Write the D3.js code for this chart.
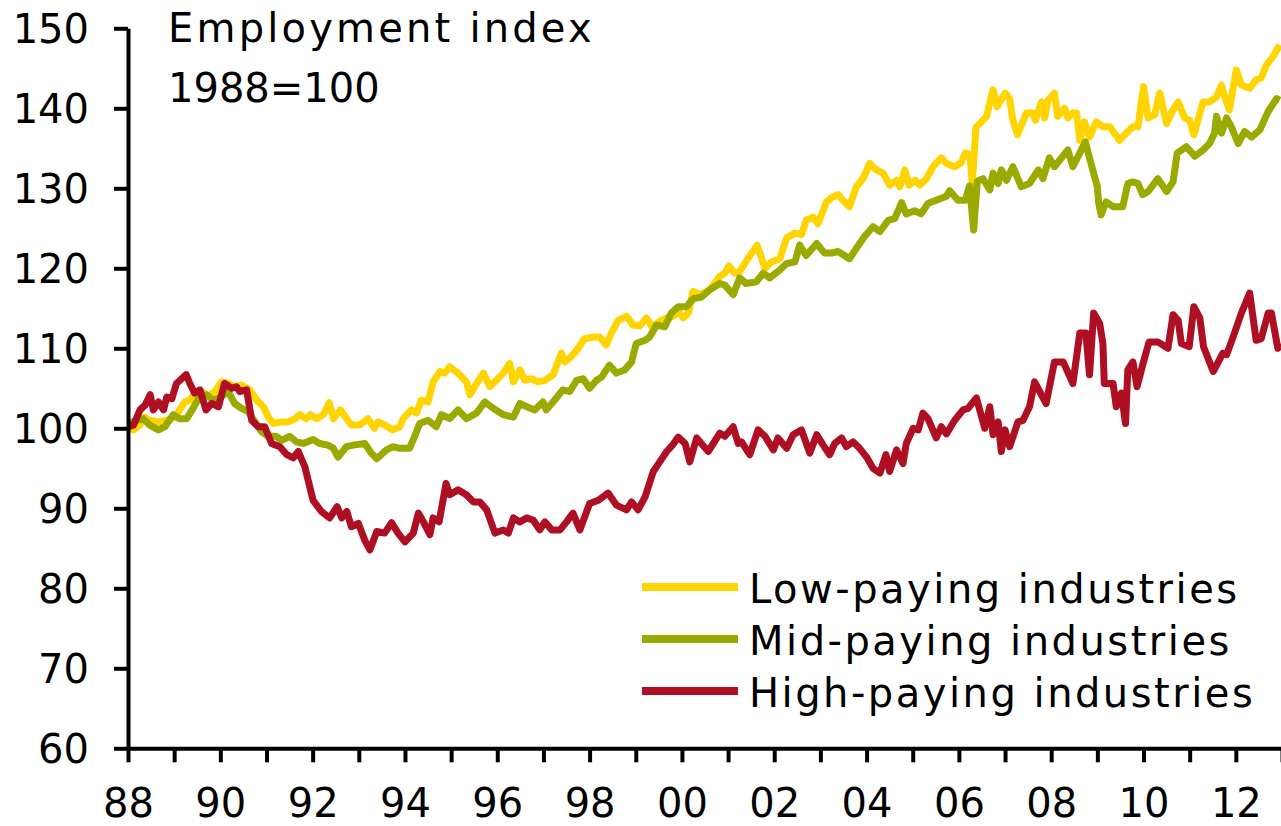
<!DOCTYPE html>
<html>
<head>
<meta charset="utf-8">
<script src="https://cdn.jsdelivr.net/npm/d3@7"></script>
<style>
  body { margin: 0; background: #fff; }
  svg { display: block; font-family: "DejaVu Sans", Verdana, sans-serif; }
</style>
</head>
<body>
<svg id="chart"></svg>
<script>
// Employment index, 1988=100, monthly readings ([year, index])

const lowPaying = [
  [1988.00,100.2],[1988.12,99.8],[1988.25,100.4],[1988.36,101.4],[1988.47,101.0],[1988.66,100.8],
  [1988.84,101.0],[1989.02,101.4],[1989.12,102.3],[1989.23,103.3],[1989.34,103.5],[1989.45,104.4],
  [1989.60,104.6],[1989.74,104.0],[1989.88,104.6],[1990.03,105.8],[1990.17,105.6],[1990.31,105.2],
  [1990.46,105.4],[1990.64,104.8],[1990.79,103.5],[1990.93,102.7],[1991.04,101.4],[1991.15,100.6],
  [1991.33,100.8],[1991.47,100.8],[1991.62,101.2],[1991.72,101.7],[1991.86,101.2],[1991.95,101.7],
  [1992.08,101.2],[1992.23,101.7],[1992.36,103.2],[1992.45,101.2],[1992.60,102.3],[1992.84,100.4],
  [1993.02,100.4],[1993.20,101.2],[1993.34,100.0],[1993.42,100.8],[1993.56,100.4],[1993.74,99.8],
  [1993.89,100.2],[1993.96,101.2],[1994.14,102.3],[1994.25,101.9],[1994.35,103.5],[1994.50,103.3],
  [1994.61,105.8],[1994.76,107.1],[1994.86,106.9],[1994.97,107.7],[1995.15,106.9],[1995.33,105.8],
  [1995.41,104.2],[1995.55,105.6],[1995.70,106.9],[1995.84,105.2],[1995.98,106.0],[1996.13,106.9],
  [1996.27,108.1],[1996.35,105.8],[1996.49,107.3],[1996.60,106.0],[1996.74,106.2],[1996.88,105.8],
  [1997.03,106.0],[1997.21,106.7],[1997.39,109.4],[1997.46,108.3],[1997.61,109.0],[1997.75,110.0],
  [1997.89,111.2],[1998.08,111.4],[1998.22,111.4],[1998.36,110.4],[1998.47,111.9],[1998.62,113.5],
  [1998.80,114.0],[1998.94,112.9],[1999.09,112.8],[1999.23,113.8],[1999.36,112.6],[1999.52,113.4],
  [1999.67,113.8],[1999.81,114.0],[1999.92,114.6],[2000.03,113.8],[2000.14,114.4],[2000.24,117.1],
  [2000.39,116.7],[2000.60,117.3],[2000.82,119.0],[2000.93,119.4],[2001.02,120.3],[2001.14,119.4],
  [2001.25,119.6],[2001.43,121.2],[2001.63,122.9],[2001.80,120.0],[2001.94,120.8],[2002.12,121.2],
  [2002.27,123.8],[2002.45,124.4],[2002.59,124.2],[2002.69,126.0],[2002.84,126.4],[2002.95,125.6],
  [2003.13,128.3],[2003.24,128.8],[2003.38,129.2],[2003.52,128.3],[2003.63,127.7],[2003.78,130.2],
  [2003.92,131.2],[2004.07,133.1],[2004.21,132.3],[2004.36,131.9],[2004.50,130.4],[2004.65,131.0],
  [2004.72,130.2],[2004.83,132.3],[2004.92,130.4],[2005.05,131.0],[2005.15,130.4],[2005.30,131.2],
  [2005.44,132.7],[2005.62,133.8],[2005.73,133.1],[2005.91,132.7],[2006.05,133.2],[2006.14,134.4],
  [2006.24,134.2],[2006.29,130.6],[2006.37,137.6],[2006.49,138.3],[2006.60,139.0],[2006.74,142.3],
  [2006.83,140.2],[2007.00,141.9],[2007.10,141.2],[2007.17,138.5],[2007.27,136.7],[2007.46,139.4],
  [2007.60,139.4],[2007.66,138.5],[2007.79,140.8],[2007.86,138.8],[2007.93,141.0],[2008.07,141.9],
  [2008.14,139.0],[2008.29,140.0],[2008.36,138.8],[2008.47,139.4],[2008.55,139.4],[2008.62,136.0],
  [2008.72,138.3],[2008.83,136.4],[2008.98,138.3],[2009.12,137.7],[2009.27,137.7],[2009.48,136.0],
  [2009.66,137.1],[2009.77,137.7],[2009.88,137.7],[2010.00,142.7],[2010.10,138.8],[2010.24,139.2],
  [2010.35,141.9],[2010.50,138.1],[2010.60,139.4],[2010.75,140.8],[2010.89,138.8],[2011.00,138.5],
  [2011.09,136.7],[2011.18,138.5],[2011.29,140.8],[2011.43,140.8],[2011.58,141.4],[2011.69,142.9],
  [2011.76,141.4],[2011.86,139.8],[2012.01,144.8],[2012.12,142.9],[2012.30,142.5],[2012.43,143.5],
  [2012.55,143.8],[2012.66,145.4],[2012.80,146.4],[2012.95,147.9]
];

const midPaying = [
  [1988.00,100.6],[1988.19,101.0],[1988.33,101.2],[1988.47,100.4],[1988.66,99.8],[1988.80,100.2],
  [1988.98,101.7],[1989.12,101.2],[1989.27,101.2],[1989.41,102.5],[1989.56,104.0],[1989.70,104.2],
  [1989.85,103.5],[1990.03,104.0],[1990.17,104.6],[1990.31,103.1],[1990.46,102.5],[1990.60,102.1],
  [1990.75,100.8],[1990.89,99.6],[1991.04,99.0],[1991.21,99.0],[1991.33,98.5],[1991.50,99.0],
  [1991.65,98.3],[1991.80,98.1],[1992.01,98.6],[1992.15,98.1],[1992.33,97.9],[1992.45,97.5],
  [1992.55,96.4],[1992.73,97.7],[1992.88,97.9],[1993.13,98.1],[1993.27,96.9],[1993.39,96.2],
  [1993.60,97.3],[1993.74,97.7],[1993.89,97.5],[1994.10,97.5],[1994.21,99.0],[1994.32,100.6],
  [1994.50,101.0],[1994.68,100.2],[1994.79,101.7],[1994.97,101.2],[1995.15,102.3],[1995.33,101.2],
  [1995.55,101.9],[1995.73,103.3],[1995.91,102.5],[1996.13,101.7],[1996.35,101.4],[1996.49,103.1],
  [1996.64,102.7],[1996.81,102.3],[1996.99,103.3],[1997.06,102.3],[1997.24,103.5],[1997.42,104.8],
  [1997.57,104.6],[1997.72,106.0],[1997.86,106.2],[1998.00,105.0],[1998.15,106.0],[1998.26,106.4],
  [1998.43,107.9],[1998.58,106.9],[1998.76,107.3],[1998.91,108.3],[1999.01,110.6],[1999.20,111.0],
  [1999.30,111.4],[1999.45,112.9],[1999.63,112.7],[1999.77,114.4],[1999.92,115.2],[2000.10,115.2],
  [2000.24,116.2],[2000.42,116.4],[2000.60,117.3],[2000.82,118.1],[2000.93,117.9],[2001.11,116.7],
  [2001.25,118.8],[2001.39,118.1],[2001.61,118.3],[2001.76,119.4],[2001.90,118.8],[2002.12,119.8],
  [2002.27,120.6],[2002.45,120.8],[2002.55,122.9],[2002.69,121.6],[2002.92,123.1],[2003.09,121.9],
  [2003.24,121.9],[2003.38,122.1],[2003.52,121.6],[2003.63,121.2],[2003.78,122.5],[2003.96,124.0],
  [2004.14,125.2],[2004.29,124.6],[2004.47,126.0],[2004.61,126.2],[2004.76,128.2],[2004.86,126.8],
  [2005.04,127.2],[2005.18,126.8],[2005.33,128.1],[2005.55,128.6],[2005.73,129.0],[2005.80,129.7],
  [2005.98,128.5],[2006.14,128.5],[2006.23,130.3],[2006.32,124.8],[2006.40,130.9],[2006.52,131.2],
  [2006.67,129.8],[2006.74,131.9],[2006.85,130.6],[2006.92,132.3],[2007.03,131.0],[2007.17,132.7],
  [2007.35,130.2],[2007.53,130.6],[2007.72,132.3],[2007.82,131.2],[2007.96,133.8],[2008.07,132.7],
  [2008.36,134.8],[2008.47,132.7],[2008.74,135.8],[2008.90,132.3],[2009.00,130.2],[2009.03,128.1],
  [2009.08,126.7],[2009.19,128.3],[2009.34,127.7],[2009.55,127.7],[2009.66,130.6],[2009.77,130.8],
  [2009.88,130.6],[2009.98,129.2],[2010.10,129.6],[2010.31,131.2],[2010.50,129.6],[2010.64,130.8],
  [2010.73,134.4],[2010.93,135.2],[2011.11,134.0],[2011.29,134.8],[2011.43,135.6],[2011.54,136.9],
  [2011.58,139.0],[2011.69,136.9],[2011.80,138.8],[2011.90,137.7],[2012.05,135.6],[2012.19,137.1],
  [2012.34,136.4],[2012.52,137.3],[2012.70,139.6],[2012.88,141.2],[2012.95,141.0]
];

const highPaying = [
  [1988.00,100.2],[1988.12,100.4],[1988.26,102.3],[1988.37,102.9],[1988.48,104.2],[1988.55,102.3],
  [1988.66,103.3],[1988.77,102.3],[1988.84,103.9],[1988.95,103.7],[1989.05,105.6],[1989.26,106.7],
  [1989.34,105.6],[1989.44,104.4],[1989.56,104.8],[1989.69,102.3],[1989.81,103.1],[1989.96,102.7],
  [1990.09,105.6],[1990.25,105.0],[1990.35,105.2],[1990.42,104.6],[1990.57,104.8],[1990.68,101.0],
  [1990.82,100.2],[1990.96,100.2],[1991.11,98.1],[1991.29,97.7],[1991.44,96.7],[1991.58,96.3],
  [1991.69,97.1],[1991.83,95.2],[1992.01,91.0],[1992.19,89.6],[1992.37,88.8],[1992.53,90.2],
  [1992.63,88.8],[1992.74,89.6],[1992.84,87.7],[1992.99,88.1],[1993.13,86.0],[1993.24,84.8],
  [1993.39,87.1],[1993.56,86.9],[1993.71,88.2],[1993.85,86.9],[1994.00,85.8],[1994.18,86.9],
  [1994.29,89.4],[1994.40,88.3],[1994.54,86.7],[1994.61,88.8],[1994.74,88.3],[1994.89,93.1],
  [1994.97,91.7],[1995.15,92.3],[1995.33,91.7],[1995.48,90.8],[1995.62,90.8],[1995.77,89.8],
  [1995.95,86.9],[1996.13,87.3],[1996.24,86.9],[1996.35,88.8],[1996.49,88.3],[1996.64,88.8],
  [1996.78,88.5],[1996.92,87.3],[1997.03,88.3],[1997.18,87.3],[1997.36,87.3],[1997.50,88.3],
  [1997.64,89.4],[1997.79,87.3],[1998.00,90.6],[1998.19,91.0],[1998.40,91.9],[1998.58,90.4],
  [1998.80,89.8],[1998.91,90.8],[1999.05,89.8],[1999.20,91.4],[1999.38,94.6],[1999.52,95.8],
  [1999.67,97.1],[1999.81,98.0],[1999.92,98.9],[2000.07,98.1],[2000.17,95.8],[2000.32,98.8],
  [2000.42,98.1],[2000.57,97.1],[2000.68,98.1],[2000.82,99.4],[2000.93,99.0],[2001.11,100.2],
  [2001.22,98.1],[2001.29,98.3],[2001.47,96.7],[2001.65,99.8],[2001.80,99.0],[2001.98,97.3],
  [2002.08,98.8],[2002.27,97.5],[2002.41,99.2],[2002.59,99.8],[2002.77,96.9],[2002.92,99.2],
  [2003.06,97.9],[2003.20,96.7],[2003.31,98.1],[2003.46,98.8],[2003.56,97.7],[2003.71,98.3],
  [2003.85,97.5],[2004.00,96.4],[2004.14,95.0],[2004.29,94.4],[2004.42,96.7],[2004.50,94.6],
  [2004.65,97.3],[2004.79,95.6],[2004.86,98.1],[2005.01,100.0],[2005.12,99.8],[2005.22,101.9],
  [2005.33,101.2],[2005.51,98.8],[2005.62,100.2],[2005.73,99.3],[2005.91,101.0],[2006.09,102.3],
  [2006.20,102.5],[2006.38,103.8],[2006.56,100.0],[2006.67,102.7],[2006.74,99.2],[2006.85,100.8],
  [2006.92,97.1],[2007.00,99.8],[2007.10,97.7],[2007.28,100.8],[2007.39,101.0],[2007.53,102.7],
  [2007.64,105.8],[2007.89,103.1],[2008.07,108.3],[2008.26,108.3],[2008.47,105.6],[2008.62,111.9],
  [2008.75,111.9],[2008.83,106.7],[2008.92,114.4],[2009.05,113.1],[2009.12,110.6],[2009.15,105.6],
  [2009.34,105.6],[2009.41,102.7],[2009.52,104.4],[2009.61,100.6],[2009.66,107.3],[2009.77,108.3],
  [2009.86,105.2],[2009.99,108.1],[2010.12,110.8],[2010.31,110.8],[2010.53,110.0],[2010.64,114.2],
  [2010.75,113.5],[2010.82,110.6],[2010.99,110.2],[2011.09,115.2],[2011.22,113.8],[2011.30,110.2],
  [2011.51,107.1],[2011.72,109.4],[2011.80,109.2],[2011.94,111.4],[2012.12,114.4],[2012.30,116.9],
  [2012.44,111.0],[2012.55,111.2],[2012.70,114.4],[2012.77,114.4],[2012.91,110.0],[2012.97,110.6]
];

const seriesNames = ["Low-paying industries", "Mid-paying industries", "High-paying industries"];
const seriesColors = ["#ffd400", "#9aaa00", "#ae0f22"];
const yTicks = [60, 70, 80, 90, 100, 110, 120, 130, 140, 150];
const xTickYears = d3.range(1988, 2014);
const titleLines = ["Employment index", "1988=100"];

// 0. Setup
const W = 1281, H = 826;
const svg = d3.select("#chart").attr("width", W).attr("height", H);

const x = d3.scaleLinear().domain([1988, 2013]).range([128, 1282]);
const y = d3.scaleLinear().domain([60, 150]).range([748.3, 28.3]);

// 1. Lines (yellow under green under red)
const line = d3.line()
    .x(d => x(d[0]))
    .y(d => y(d[1]));

const allSeries = [lowPaying, midPaying, highPaying];

svg.append("g")
  .selectAll("path")
  .data(allSeries)
  .join("path")
    .attr("d", line)
    .attr("fill", "none")
    .attr("stroke", (d, i) => seriesColors[i])
    .attr("stroke-width", 7)
    .attr("stroke-linejoin", "round")
    .attr("stroke-linecap", "butt");

// 2. Axes
const yAxis = svg.append("g")
    .attr("transform", `translate(${x(1988)},0)`)
    .call(d3.axisLeft(y).tickValues(yTicks).tickSize(14).tickSizeOuter(0).tickPadding(25));

const xAxis = svg.append("g")
    .attr("transform", `translate(0,${y(60)})`)
    .call(d3.axisBottom(x).tickValues(xTickYears).tickSize(14).tickSizeOuter(0)
        .tickFormat(d => d % 2 === 0 && d < 2013 ? String(d).slice(2) : ""));

[yAxis, xAxis].forEach(ax => {
    ax.select(".domain").attr("stroke", "#000").attr("stroke-width", 4);
    ax.selectAll(".tick line").attr("stroke", "#000").attr("stroke-width", 4);
    ax.selectAll(".tick text")
        .attr("fill", "#000")
        .style("font-family", "'DejaVu Sans', Verdana, sans-serif")
        .style("font-size", "40px");
});
yAxis.selectAll(".tick text").attr("dy", "0.36em");
xAxis.selectAll(".tick text").attr("y", 69).attr("dy", 0);

// 3. Title
svg.append("g")
  .selectAll("text")
  .data(titleLines)
  .join("text")
    .attr("x", 168)
    .attr("y", (d, i) => 42 + i * 60)
    .attr("font-size", 40)
    .attr("letter-spacing", (d, i) => i === 0 ? 3.2 : 0)
    .attr("fill", "#000")
    .text(d => d);

// 4. Legend
const legend = svg.append("g")
  .selectAll("g")
  .data(seriesNames)
  .join("g")
    .attr("transform", (d, i) => `translate(642,${587 + i * 52})`);

legend.append("line")
    .attr("x1", 0).attr("x2", 96)
    .attr("stroke", (d, i) => seriesColors[i])
    .attr("stroke-width", 8);

legend.append("text")
    .attr("x", 107)
    .attr("y", 16)
    .attr("font-size", 40)
    .attr("letter-spacing", 2.5)
    .attr("fill", "#000")
    .text(d => d);
</script>
</body>
</html>
